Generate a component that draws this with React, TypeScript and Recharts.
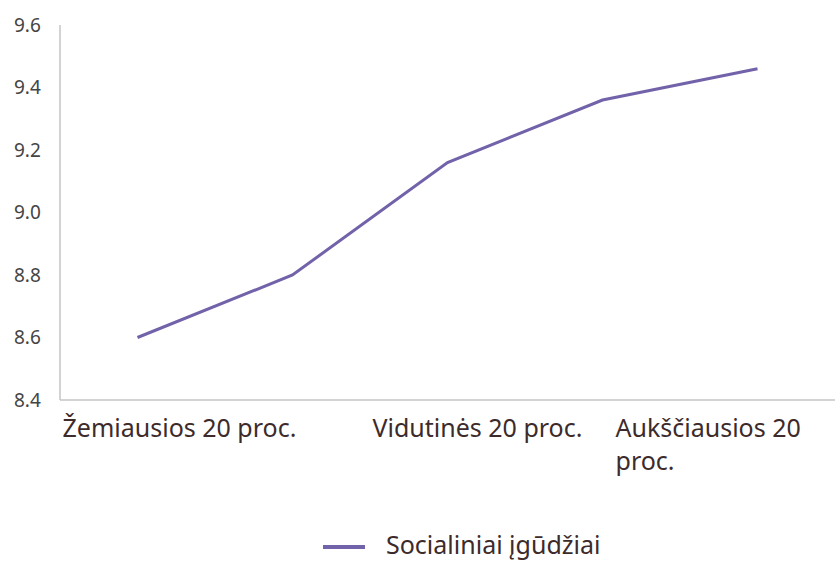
import React from 'react';
import { LineChart, Line, XAxis, YAxis, Legend } from 'recharts';

// Income groups (only every other one is labelled on the axis)
const categories = [
  'Žemiausios 20 proc.',
  '',
  'Vidutinės 20 proc.',
  '',
  'Aukščiausios 20 proc.',
];
const socialSkills = [8.6, 8.8, 9.16, 9.36, 9.46];
const yTicks = [8.4, 8.6, 8.8, 9.0, 9.2, 9.4, 9.6];
const seriesName = 'Socialiniai įgūdžiai';

const data = categories.map((name, i) => ({ name, value: socialSkills[i] }));

const LINE_COLOR = '#7262a9';
const TEXT_COLOR = '#3d2b2b';
const AXIS_COLOR = '#c4c4c4';
const FONT = '"Noto Sans", "Open Sans", sans-serif';

// where each visible label starts relative to its category, and how many words go on line one
const tickLayout: Record<number, { dx: number; firstLine: number }> = {
  0: { dx: -75, firstLine: 99 },
  2: { dx: -75, firstLine: 99 },
  4: { dx: -142, firstLine: 2 },
};

const XTick = (props: any) => {
  const { x, y, payload } = props;
  const layout = tickLayout[payload.index] || { dx: 0, firstLine: 99 };
  const words = String(payload.value).split(' ');
  const lines = [words.slice(0, layout.firstLine).join(' '), words.slice(layout.firstLine).join(' ')].filter(Boolean);
  return (
    <text x={x + layout.dx} y={y + 37} textAnchor="start" fontSize={25} fontFamily={FONT} fill={TEXT_COLOR}>
      {lines.map((line, i) => (
        <tspan key={i} x={x + layout.dx} dy={i === 0 ? 0 : 33}>
          {line}
        </tspan>
      ))}
    </text>
  );
};

const YTick = (props: any) => {
  const { y, payload } = props;
  return (
    <text x={14} y={y} dy="0.36em" textAnchor="start" fontSize={19} fontFamily={FONT} fill="#444">
      {Number(payload.value).toFixed(1)}
    </text>
  );
};

const LegendContent = (props: any) => {
  const item = (props.payload || [])[0];
  return (
    <div style={{ display: 'flex', alignItems: 'flex-start', paddingLeft: 323, fontFamily: FONT }}>
      <div style={{ width: 42, height: 4, marginTop: 16, background: item ? item.color : LINE_COLOR }} />
      <span style={{ marginLeft: 21, fontSize: 25, color: TEXT_COLOR, lineHeight: '30px' }}>
        {item ? item.value : seriesName}
      </span>
    </div>
  );
};

export default function App() {
  return (
    <div style={{ width: 840, height: 561, background: '#fff', fontFamily: FONT, overflow: 'hidden' }}>
      <style>{'body{margin:0}'}</style>
      <LineChart width={840} height={561} data={data} margin={{ top: 25, right: 5, left: 0, bottom: 61 }}>
        <XAxis
          dataKey="name"
          height={100}
          interval={1}
          padding={{ left: 77.5, right: 77.5 }}
          axisLine={{ stroke: AXIS_COLOR, strokeWidth: 1.5 }}
          tickLine={false}
          tickSize={0}
          tickMargin={0}
          tick={<XTick />}
        />
        <YAxis
          type="number"
          domain={[8.4, 9.6]}
          ticks={yTicks}
          width={60}
          axisLine={{ stroke: AXIS_COLOR, strokeWidth: 1.5 }}
          tickLine={false}
          tick={<YTick />}
        />
        <Legend
          layout="horizontal"
          verticalAlign="middle"
          align="center"
          wrapperStyle={{ top: 529, left: 0, width: 840 }}
          content={<LegendContent />}
        />
        <Line
          type="linear"
          dataKey="value"
          name={seriesName}
          stroke={LINE_COLOR}
          strokeWidth={3}
          dot={false}
          activeDot={false}
          isAnimationActive={false}
        />
      </LineChart>
    </div>
  );
}
